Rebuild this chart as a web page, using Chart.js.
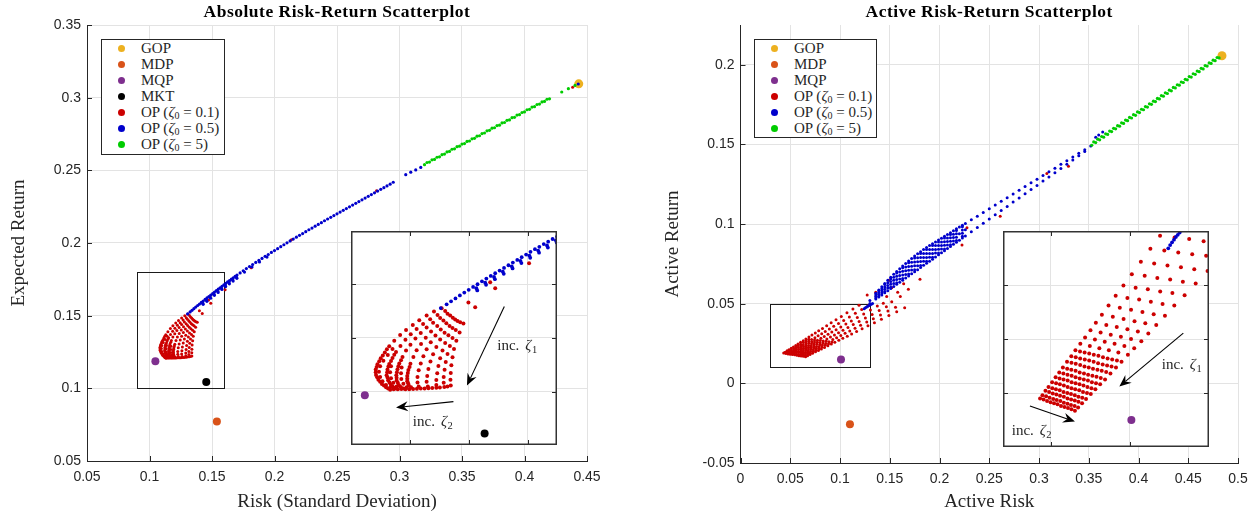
<!DOCTYPE html>
<html>
<head>
<meta charset="utf-8">
<script src="https://cdn.jsdelivr.net/npm/chart.js@4.4.1/dist/chart.umd.min.js"></script>
<style>
body { margin: 0; background: #fff; }
#wrap { position: relative; width: 1256px; height: 519px; overflow: hidden; background: #fff; }
canvas { position: absolute; }
.inset { background: #fff; }
.title { position: absolute; top: 1px; text-align: center; font: bold 17.5px "Liberation Serif", serif; letter-spacing: 0.5px; color: #000; line-height: 20px; white-space: nowrap; }
.legend { position: absolute; box-sizing: border-box; border: 1px solid #262626; background: #fff; }
.legend .row { position: absolute; left: 0; height: 16px; line-height: 16px; font: 15px "Liberation Serif", serif; color: #262626; white-space: nowrap; }
.legend .dot { position: absolute; left: 15.5px; top: 4.5px; width: 7px; height: 7px; border-radius: 50%; }
.legend .txt { position: absolute; left: 39px; }
sub { font-size: 10px; vertical-align: -2px; line-height: 0; }
</style>
</head>
<body>
<div id="wrap">
  <canvas id="absChart" width="628" height="519" style="left:0;top:0"></canvas>
  <canvas id="actChart" width="628" height="519" style="left:628px;top:0"></canvas>
  <canvas id="absInset" class="inset" width="206" height="214" style="left:351px;top:231px"></canvas>
  <canvas id="actInset" class="inset" width="206" height="216" style="left:1003px;top:231px"></canvas>
  <div class="title" style="left:87px;width:500px">Absolute Risk-Return Scatterplot</div>
  <div class="title" style="left:740.5px;width:497.5px">Active Risk-Return Scatterplot</div>
  <div class="legend" id="absLegend" style="left:101px;top:39px;width:124px;height:116px"></div>
  <div class="legend" id="actLegend" style="left:754px;top:39px;width:123px;height:99px"></div>
</div>
<script>
// ---------- ticks ----------
const absXTicks = [0.05, 0.1, 0.15, 0.2, 0.25, 0.3, 0.35, 0.4, 0.45];
const absYTicks = [0.05, 0.1, 0.15, 0.2, 0.25, 0.3, 0.35];
const actXTicks = [0, 0.05, 0.1, 0.15, 0.2, 0.25, 0.3, 0.35, 0.4, 0.45, 0.5];
const actYTicks = [-0.05, 0, 0.05, 0.1, 0.15, 0.2];
const absInsetXTicks = [0.12, 0.14, 0.16];
const absInsetYTicks = [0.12, 0.14, 0.16];
const actInsetXTicks = [0.05, 0.1];
const actInsetYTicks = [0.02, 0.03, 0.04];

// ---------- legend ----------
const absLegendLabels = ['GOP', 'MDP', 'MQP', 'MKT', 'OP (<i>ζ</i><sub>0</sub> = 0.1)', 'OP (<i>ζ</i><sub>0</sub> = 0.5)', 'OP (<i>ζ</i><sub>0</sub> = 5)'];
const actLegendLabels = ['GOP', 'MDP', 'MQP', 'OP (<i>ζ</i><sub>0</sub> = 0.1)', 'OP (<i>ζ</i><sub>0</sub> = 0.5)', 'OP (<i>ζ</i><sub>0</sub> = 5)'];

// ---------- absolute risk-return data ----------
const absGOP = [[0.4434, 0.3095]];
const absMDP = [[0.1539, 0.0772]];
const absMQP = [[0.1047, 0.1186]];
const absMKT = [[0.1454, 0.1043]];

const absOp01 = [
  [0.1308,0.1511],[0.1282,0.1499],[0.1257,0.1484],[0.1232,0.1466],[0.1210,0.1449],[0.1187,0.1430],[0.1167,0.1411],[0.1147,0.1390],[0.1130,0.1369],[0.1115,0.1346],[0.1101,0.1324],[0.1090,0.1302],[0.1084,0.1282],[0.1085,0.1262],[0.1093,0.1244],[0.1105,0.1228],[0.1119,0.1216],[0.1133,0.1207],
  [0.1320,0.1501],[0.1294,0.1486],[0.1269,0.1470],[0.1245,0.1452],[0.1223,0.1434],[0.1203,0.1414],[0.1185,0.1393],[0.1168,0.1370],[0.1153,0.1348],[0.1141,0.1325],[0.1130,0.1303],[0.1124,0.1282],[0.1121,0.1261],[0.1126,0.1242],[0.1135,0.1226],[0.1146,0.1214],[0.1159,0.1208],
  [0.1328,0.1491],[0.1303,0.1475],[0.1279,0.1457],[0.1257,0.1439],[0.1237,0.1419],[0.1219,0.1398],[0.1202,0.1375],[0.1187,0.1353],[0.1175,0.1329],[0.1164,0.1305],[0.1158,0.1283],[0.1154,0.1261],[0.1155,0.1241],[0.1162,0.1224],[0.1172,0.1213],[0.1185,0.1208],
  [0.1337,0.1484],[0.1314,0.1465],[0.1293,0.1445],[0.1272,0.1424],[0.1254,0.1401],[0.1238,0.1378],[0.1223,0.1354],[0.1212,0.1329],[0.1202,0.1304],[0.1195,0.1280],[0.1191,0.1258],[0.1191,0.1238],[0.1196,0.1223],[0.1211,0.1209],
  [0.1346,0.1476],[0.1324,0.1455],[0.1305,0.1432],[0.1287,0.1409],[0.1271,0.1384],[0.1257,0.1358],[0.1246,0.1332],[0.1237,0.1305],[0.1230,0.1279],[0.1226,0.1254],[0.1226,0.1234],[0.1230,0.1219],[0.1237,0.1211],
  [0.1354,0.1469],[0.1335,0.1445],[0.1318,0.1420],[0.1303,0.1394],[0.1290,0.1366],[0.1279,0.1339],[0.1270,0.1312],[0.1263,0.1284],[0.1259,0.1258],[0.1257,0.1236],[0.1261,0.1219],[0.1263,0.1212],
  [0.1362,0.1464],[0.1345,0.1437],[0.1331,0.1410],[0.1320,0.1381],[0.1311,0.1353],[0.1303,0.1324],[0.1297,0.1295],[0.1293,0.1268],[0.1290,0.1243],[0.1290,0.1224],[0.1290,0.1214],
  [0.1371,0.1459],[0.1356,0.1430],[0.1345,0.1400],[0.1336,0.1370],[0.1328,0.1340],[0.1322,0.1310],[0.1318,0.1281],[0.1315,0.1254],[0.1315,0.1233],[0.1317,0.1217],
  [0.1382,0.1454],[0.1369,0.1421],[0.1358,0.1390],[0.1350,0.1359],[0.1345,0.1328],[0.1341,0.1298],[0.1339,0.1269],[0.1338,0.1244],[0.1339,0.1222],
  [0.1099,0.1294],[0.1095,0.1274],[0.1099,0.1254],[0.1107,0.1238],[0.1119,0.1224],[0.1133,0.1214],[0.1145,0.1208],[0.1110,0.1315],[0.1125,0.1336],[0.1141,0.1359],
  [0.1136,0.1294],[0.1133,0.1272],[0.1136,0.1250],[0.1144,0.1233],[0.1155,0.1219],[0.1171,0.1209],[0.1172,0.1290],[0.1170,0.1268],[0.1171,0.1247],[0.1178,0.1229],[0.1189,0.1216],[0.1198,0.1208],
  [0.1122,0.1358],[0.1108,0.1335],[0.1096,0.1313],[0.1087,0.1292],[0.1084,0.1272],[0.1089,0.1253],[0.1099,0.1236],[0.1112,0.1222],[0.1126,0.1211],
  [0.1147,0.1337],[0.1136,0.1314],[0.1127,0.1293],[0.1123,0.1272],[0.1124,0.1252],[0.1131,0.1234],[0.1141,0.1220],[0.1153,0.1211],
  [0.1170,0.1317],[0.1161,0.1294],[0.1156,0.1272],[0.1155,0.1251],[0.1159,0.1233],[0.1167,0.1219],[0.1179,0.1211],
  [0.1199,0.1292],[0.1193,0.1269],[0.1191,0.1248],[0.1194,0.1231],[0.1204,0.1216],
  [0.1224,0.1210],[0.1250,0.1211],[0.1276,0.1213],[0.1302,0.1215],[0.1328,0.1219],
  [0.1399,0.1533],[0.1422,0.1515],[0.1473,0.1608],[0.1490,0.1586],[0.1605,0.1679],[0.1814,0.1830],[0.2135,0.2023],[0.2816,0.2360],[0.4385,0.3072]
];

const absOp05 = [
  [0.1305,0.1512],[0.1325,0.1526],[0.1340,0.1537],[0.1355,0.1548],[0.1370,0.1559],[0.1385,0.1570],[0.1400,0.1580],[0.1415,0.1591],[0.1430,0.1601],[0.1445,0.1612],[0.1460,0.1622],[0.1475,0.1632],[0.1490,0.1642],[0.1505,0.1652],[0.1520,0.1662],[0.1535,0.1672],[0.1550,0.1682],[0.1565,0.1692],[0.1580,0.1702],[0.1595,0.1712],[0.1610,0.1722],[0.1625,0.1732],[0.1640,0.1741],[0.1655,0.1751],[0.1670,0.1760],[0.1685,0.1770],[0.1700,0.1779],
  [0.1426,0.1586],[0.1429,0.1578],[0.1456,0.1607],[0.1459,0.1599],[0.1486,0.1628],[0.1489,0.1620],[0.1516,0.1648],[0.1519,0.1640],[0.1546,0.1668],[0.1549,0.1660],[0.1576,0.1688],[0.1579,0.1680],[0.1606,0.1708],[0.1609,0.1700],[0.1636,0.1727],[0.1639,0.1719],[0.1666,0.1746],[0.1669,0.1738],[0.1696,0.1765],[0.1699,0.1757],[0.1760,0.1800],[0.1820,0.1835],[0.1880,0.1870],[0.1940,0.1903],
  [0.1725,0.1794],[0.1750,0.1809],[0.1775,0.1824],[0.1800,0.1838],[0.1825,0.1852],[0.1850,0.1866],[0.1875,0.1880],[0.1900,0.1894],[0.1925,0.1908],[0.1950,0.1921],[0.1975,0.1935],[0.2000,0.1948],[0.2025,0.1961],[0.2050,0.1975],[0.2075,0.1988],[0.2100,0.2001],[0.2125,0.2014],[0.2150,0.2027],[0.2175,0.2040],[0.2200,0.2053],[0.2225,0.2065],[0.2250,0.2078],[0.2275,0.2091],[0.2300,0.2103],[0.2325,0.2116],[0.2350,0.2128],[0.2375,0.2140],[0.2400,0.2153],[0.2425,0.2165],[0.2450,0.2177],[0.2475,0.2189],[0.2500,0.2201],[0.2525,0.2213],[0.2550,0.2225],[0.2575,0.2237],[0.2600,0.2249],[0.2625,0.2261],[0.2650,0.2273],[0.2675,0.2285],[0.2700,0.2297],[0.2725,0.2309],[0.2750,0.2321],[0.2775,0.2333],[0.2800,0.2345],[0.2825,0.2357],[0.2850,0.2369],[0.2875,0.2381],[0.2900,0.2393],[0.2925,0.2405],[0.2950,0.2418],
  [0.3050,0.2470],[0.3090,0.2487],[0.3130,0.2503],[0.3170,0.2520],[0.4430,0.3094]
];

const absOp5 = [
  [0.320,0.2539],[0.324,0.2557],[0.328,0.2575],[0.332,0.2593],[0.336,0.2612],[0.340,0.2630],[0.344,0.2648],[0.348,0.2666],[0.352,0.2684],[0.356,0.2702],[0.360,0.2720],[0.364,0.2738],[0.368,0.2757],[0.372,0.2775],[0.376,0.2793],[0.380,0.2811],[0.384,0.2829],[0.388,0.2847],[0.392,0.2865],[0.396,0.2883],[0.400,0.2902],[0.404,0.2920],[0.408,0.2938],[0.412,0.2956],[0.416,0.2974],[0.420,0.2992],
  [0.322,0.2554],[0.326,0.2572],[0.330,0.2590],[0.334,0.2608],[0.338,0.2627],[0.342,0.2645],[0.346,0.2663],[0.350,0.2681],[0.354,0.2699],[0.358,0.2717],[0.362,0.2735],[0.366,0.2753],[0.370,0.2772],[0.374,0.2790],[0.378,0.2808],[0.382,0.2826],[0.386,0.2844],[0.390,0.2862],[0.394,0.2880],[0.398,0.2898],[0.402,0.2917],[0.406,0.2935],[0.410,0.2953],[0.414,0.2971],[0.418,0.2989],
  [0.4298,0.3039],[0.4351,0.3062],[0.4404,0.3084]
];

// ---------- active risk-return data ----------
const actGOP = [[0.4839, 0.2057]];
const actMDP = [[0.1100, -0.0257]];
const actMQP = [[0.1010, 0.0150]];

const actOp01 = [
  [0.1191,0.0491],[0.1283,0.0488],[0.1375,0.0485],[0.1466,0.0481],[0.1558,0.0478],[0.1650,0.0475],
  [0.1130,0.0467],[0.1218,0.0464],[0.1306,0.0460],[0.1394,0.0457],[0.1482,0.0454],[0.1570,0.0450],
  [0.1070,0.0443],[0.1154,0.0440],[0.1238,0.0436],[0.1323,0.0433],[0.1407,0.0429],[0.1491,0.0426],
  [0.1013,0.0420],[0.1094,0.0417],[0.1174,0.0413],[0.1255,0.0410],[0.1335,0.0406],[0.1416,0.0403],
  [0.0960,0.0399],[0.1037,0.0395],[0.1114,0.0392],[0.1192,0.0388],[0.1269,0.0385],[0.1346,0.0381],
  [0.0911,0.0380],[0.0985,0.0376],[0.1059,0.0373],[0.1133,0.0369],[0.1207,0.0365],[0.1281,0.0362],
  [0.0866,0.0362],[0.0937,0.0358],[0.1008,0.0354],[0.1080,0.0350],[0.1151,0.0346],[0.1222,0.0343],
  [0.0824,0.0345],[0.0893,0.0341],[0.0961,0.0337],[0.1030,0.0333],[0.1098,0.0329],[0.1167,0.0326],
  [0.0786,0.0330],[0.0852,0.0326],[0.0918,0.0322],[0.0985,0.0318],[0.1051,0.0314],[0.1117,0.0310],
  [0.0752,0.0316],[0.0816,0.0312],[0.0880,0.0308],[0.0944,0.0304],[0.1008,0.0300],[0.1073,0.0296],
  [0.0718,0.0303],[0.0780,0.0299],[0.0842,0.0295],[0.0904,0.0291],[0.0966,0.0287],[0.1028,0.0283],
  [0.0688,0.0291],[0.0748,0.0287],[0.0808,0.0283],[0.0868,0.0279],[0.0928,0.0275],[0.0988,0.0271],
  [0.0657,0.0279],[0.0715,0.0275],[0.0773,0.0271],[0.0831,0.0266],[0.0889,0.0262],[0.0948,0.0258],
  [0.0686,0.0277],[0.0744,0.0273],[0.0802,0.0269],[0.0860,0.0264],[0.0919,0.0260],
  [0.0631,0.0268],[0.0687,0.0264],[0.0744,0.0260],[0.0800,0.0255],[0.0857,0.0251],[0.0913,0.0247],
  [0.0659,0.0266],[0.0716,0.0262],[0.0772,0.0258],[0.0829,0.0253],[0.0885,0.0249],
  [0.0604,0.0258],[0.0659,0.0254],[0.0714,0.0249],[0.0768,0.0245],[0.0823,0.0241],[0.0878,0.0236],
  [0.0632,0.0256],[0.0687,0.0252],[0.0741,0.0247],[0.0796,0.0243],[0.0851,0.0239],
  [0.0578,0.0247],[0.0631,0.0243],[0.0684,0.0238],[0.0737,0.0234],[0.0790,0.0230],[0.0844,0.0225],
  [0.0605,0.0245],[0.0658,0.0241],[0.0711,0.0236],[0.0764,0.0232],[0.0817,0.0228],
  [0.0555,0.0238],[0.0607,0.0234],[0.0658,0.0229],[0.0710,0.0225],[0.0761,0.0220],[0.0813,0.0216],
  [0.0581,0.0236],[0.0633,0.0232],[0.0684,0.0227],[0.0736,0.0223],[0.0787,0.0218],
  [0.0532,0.0229],[0.0582,0.0225],[0.0633,0.0220],[0.0683,0.0216],[0.0733,0.0211],[0.0783,0.0207],
  [0.0557,0.0227],[0.0608,0.0223],[0.0658,0.0218],[0.0708,0.0214],[0.0758,0.0209],
  [0.0510,0.0220],[0.0559,0.0216],[0.0608,0.0211],[0.0656,0.0207],[0.0705,0.0202],[0.0754,0.0198],
  [0.0535,0.0218],[0.0584,0.0214],[0.0632,0.0209],[0.0681,0.0205],[0.0730,0.0200],
  [0.0487,0.0211],[0.0534,0.0207],[0.0582,0.0202],[0.0629,0.0198],[0.0676,0.0193],[0.0724,0.0189],
  [0.0511,0.0209],[0.0558,0.0205],[0.0606,0.0200],[0.0653,0.0196],[0.0700,0.0191],
  [0.0468,0.0204],[0.0514,0.0199],[0.0560,0.0195],[0.0607,0.0190],[0.0653,0.0186],[0.0699,0.0181],
  [0.0491,0.0202],[0.0537,0.0197],[0.0584,0.0193],[0.0630,0.0188],[0.0676,0.0184],
  [0.0449,0.0196],[0.0494,0.0191],[0.0539,0.0187],[0.0584,0.0182],[0.0629,0.0178],[0.0674,0.0173],
  [0.0472,0.0194],[0.0517,0.0189],[0.0562,0.0185],[0.0607,0.0180],[0.0652,0.0176],
  [0.0434,0.0190],[0.0478,0.0185],[0.0522,0.0181],[0.0566,0.0176],[0.0610,0.0172],[0.0654,0.0167],
  [0.0456,0.0188],[0.0500,0.0183],[0.0544,0.0179],[0.0588,0.0174],[0.0632,0.0170],
  [0.1273,0.0555],[0.1359,0.0572],[0.1469,0.0545],[0.1520,0.0513],[0.1435,0.0503],[0.1580,0.0572],[0.1687,0.0591],[0.1804,0.0654],[0.1489,0.0647],[0.1606,0.0545],[0.1520,0.0600],[0.1640,0.0625],
  [0.2226,0.0868],[0.2276,0.0977],[0.2610,0.1050],[0.3079,0.1317],[0.3296,0.1363]
];

const actOp05 = [
  [0.1243,0.0468],[0.1255,0.0474],[0.1267,0.0479],[0.1279,0.0484],[0.1291,0.0489],[0.1303,0.0493],[0.1315,0.0497],[0.1327,0.0501],
  [0.130,0.0521],[0.136,0.0565],[0.142,0.0607],[0.148,0.0647],[0.154,0.0685],[0.160,0.0720],[0.166,0.0753],[0.172,0.0784],[0.178,0.0813],[0.184,0.0840],[0.190,0.0865],
  [0.196,0.0888],[0.202,0.0911],[0.208,0.0934],[0.214,0.0958],[0.220,0.0981],[0.226,0.1004],[0.232,0.1027],[0.238,0.1050],[0.244,0.1073],[0.250,0.1097],[0.256,0.1120],[0.262,0.1143],[0.268,0.1166],[0.274,0.1189],[0.280,0.1212],[0.286,0.1236],[0.292,0.1259],[0.298,0.1282],[0.304,0.1305],[0.310,0.1328],[0.316,0.1351],[0.322,0.1375],[0.328,0.1398],[0.334,0.1421],[0.340,0.1444],[0.346,0.1467],[0.352,0.1490],
  [0.130,0.0502],[0.136,0.0529],[0.142,0.0555],[0.148,0.0582],[0.154,0.0608],[0.160,0.0635],[0.166,0.0661],[0.172,0.0688],[0.178,0.0714],[0.184,0.0741],[0.190,0.0767],[0.196,0.0794],[0.202,0.0820],[0.208,0.0846],[0.214,0.0873],[0.220,0.0899],[0.226,0.0926],[0.232,0.0952],[0.238,0.0979],[0.244,0.1005],[0.250,0.1032],[0.256,0.1058],[0.262,0.1085],[0.268,0.1111],[0.274,0.1138],[0.280,0.1164],[0.286,0.1190],[0.292,0.1217],[0.298,0.1243],[0.304,0.1270],[0.310,0.1296],[0.316,0.1323],[0.322,0.1349],[0.328,0.1376],[0.334,0.1402],[0.340,0.1429],[0.346,0.1455],
  [0.136,0.0538],[0.142,0.0568],[0.148,0.0598],[0.154,0.0627],[0.160,0.0656],[0.166,0.0684],[0.172,0.0712],[0.178,0.0739],[0.184,0.0766],[0.190,0.0792],[0.196,0.0818],[0.202,0.0843],[0.208,0.0868],[0.214,0.0894],
  [0.136,0.0547],[0.142,0.0581],[0.148,0.0615],[0.154,0.0647],[0.160,0.0678],[0.166,0.0707],[0.172,0.0736],[0.178,0.0764],[0.184,0.0791],[0.190,0.0816],[0.196,0.0841],[0.202,0.0866],[0.208,0.0890],[0.214,0.0916],[0.220,0.0940],[0.226,0.0965],
  [0.136,0.0556],[0.142,0.0594],[0.148,0.0631],[0.154,0.0666],[0.160,0.0699],[0.166,0.0730],[0.172,0.0760],[0.178,0.0788],[0.184,0.0815],[0.190,0.0841],[0.196,0.0865],[0.202,0.0888],[0.208,0.0912],[0.214,0.0937],
  [0.139,0.0542],[0.139,0.0548],[0.139,0.0559],[0.139,0.0570],[0.139,0.0581],[0.139,0.0586],
  [0.145,0.0569],[0.145,0.0576],[0.145,0.0591],[0.145,0.0605],[0.145,0.0620],[0.145,0.0627],
  [0.151,0.0595],[0.151,0.0604],[0.151,0.0622],[0.151,0.0639],[0.151,0.0657],[0.151,0.0666],
  [0.157,0.0622],[0.157,0.0632],[0.157,0.0652],[0.157,0.0673],[0.157,0.0693],[0.157,0.0703],
  [0.163,0.0648],[0.163,0.0659],[0.163,0.0681],[0.163,0.0704],[0.163,0.0726],[0.163,0.0737],
  [0.169,0.0674],[0.169,0.0686],[0.169,0.0710],[0.169,0.0733],[0.169,0.0757],[0.169,0.0769],
  [0.175,0.0701],[0.175,0.0713],[0.175,0.0738],[0.175,0.0762],[0.175,0.0787],[0.175,0.0799],
  [0.181,0.0727],[0.181,0.0740],[0.181,0.0765],[0.181,0.0790],[0.181,0.0815],[0.181,0.0827],
  [0.187,0.0754],[0.187,0.0766],[0.187,0.0791],[0.187,0.0816],[0.187,0.0841],[0.187,0.0853],
  [0.193,0.0780],[0.193,0.0792],[0.193,0.0816],[0.193,0.0841],[0.193,0.0865],[0.193,0.0877],
  [0.199,0.0807],[0.199,0.0819],[0.199,0.0842],[0.199,0.0865],[0.199,0.0888],[0.199,0.0900],
  [0.205,0.0833],[0.205,0.0844],[0.205,0.0867],[0.205,0.0889],[0.205,0.0912],[0.205,0.0923],
  [0.211,0.0860],[0.211,0.0871],[0.211,0.0892],[0.211,0.0914],[0.211,0.0935],[0.211,0.0946],
  [0.217,0.0886],[0.217,0.0897],[0.217,0.0918],[0.217,0.0939],[0.217,0.0960],[0.217,0.0970],
  [0.223,0.0913],[0.223,0.0923],[0.223,0.0943],[0.223,0.0963],[0.223,0.0983],[0.223,0.0993],
  [0.357,0.1545],[0.360,0.1560],[0.364,0.1578]
];

const actOp5 = [
  [0.353,0.1495],[0.357,0.1512],[0.361,0.1529],[0.365,0.1546],[0.369,0.1563],[0.373,0.1581],[0.377,0.1598],[0.381,0.1615],[0.385,0.1632],[0.389,0.1649],[0.393,0.1666],[0.397,0.1683],[0.401,0.1700],[0.405,0.1718],[0.409,0.1735],[0.413,0.1752],[0.417,0.1769],[0.421,0.1786],[0.425,0.1803],[0.429,0.1820],[0.433,0.1837],[0.437,0.1855],[0.441,0.1872],[0.445,0.1889],[0.449,0.1906],[0.453,0.1923],[0.457,0.1940],[0.461,0.1957],[0.465,0.1974],[0.469,0.1992],[0.473,0.2009],[0.477,0.2026],[0.481,0.2043],
  [0.355,0.1516],[0.359,0.1533],[0.363,0.1550],[0.367,0.1567],[0.371,0.1584],[0.375,0.1601],[0.379,0.1618],[0.383,0.1636],[0.387,0.1653],[0.391,0.1670],[0.395,0.1687],[0.399,0.1704],[0.403,0.1721],[0.407,0.1738],[0.411,0.1755],[0.415,0.1772],[0.419,0.1789],[0.423,0.1807],[0.427,0.1824],[0.431,0.1841],[0.435,0.1858],[0.439,0.1875],[0.443,0.1892],[0.447,0.1909],[0.451,0.1926],[0.455,0.1944],[0.459,0.1961],[0.463,0.1978],[0.467,0.1995],[0.471,0.2012],[0.475,0.2029],[0.479,0.2046]
];

// ---------- styling ----------
const COL = { gop: '#EDB120', mdp: '#D95319', mqp: '#7E2F8E', mkt: '#000000', op01: '#CC0000', op05: '#0000CC', op5: '#00CC00' };
const absLegendColors = [COL.gop, COL.mdp, COL.mqp, COL.mkt, COL.op01, COL.op05, COL.op5];
const actLegendColors = [COL.gop, COL.mdp, COL.mqp, COL.op01, COL.op05, COL.op5];
const AX = '#262626', GRID = '#e3e3e3';

Chart.defaults.font.family = '"Liberation Sans", Arial, sans-serif';

// decorations: zoom boxes, frames, arrows, notes
const decorCfg = {
  absChart: { rect: [0.09, 0.10, 0.16, 0.18] },
  actChart: { rect: [0.03, 0.01, 0.13, 0.05] },
  absInset: { box: true,
    arrows: [[0.1521, 0.1518, 0.1394, 0.1222], [0.1348, 0.1162, 0.1153, 0.1140]],
    notes: [[0.1497, 0.1370, '1'], [0.1210, 0.1086, '2']] },
  actInset: { box: true,
    arrows: [[0.1338, 0.0311, 0.0934, 0.0212], [0.0370, 0.0176, 0.0654, 0.0147]],
    notes: [[0.1202, 0.0251, '1'], [0.0255, 0.0130, '2']] }
};

function drawArrow(ctx, x0, y0, x1, y1) {
  const ang = Math.atan2(y1 - y0, x1 - x0);
  const L = 12, W = 5, N = 8;
  ctx.strokeStyle = '#000'; ctx.fillStyle = '#000'; ctx.lineWidth = 1.1;
  ctx.beginPath();
  ctx.moveTo(x0, y0);
  ctx.lineTo(x1 - Math.cos(ang) * N, y1 - Math.sin(ang) * N);
  ctx.stroke();
  ctx.save();
  ctx.translate(x1, y1);
  ctx.rotate(ang);
  ctx.beginPath();
  ctx.moveTo(0, 0); ctx.lineTo(-L, -W); ctx.lineTo(-N, 0); ctx.lineTo(-L, W);
  ctx.closePath(); ctx.fill();
  ctx.restore();
}

function drawNote(ctx, px, py, sub) {
  ctx.fillStyle = AX; ctx.textBaseline = 'middle'; ctx.textAlign = 'left';
  ctx.font = '15px "Liberation Serif"';
  ctx.fillText('inc.', px, py);
  let w = ctx.measureText('inc.').width + 6;
  ctx.font = 'italic 15px "Liberation Serif"';
  ctx.fillText('ζ', px + w, py);
  w += ctx.measureText('ζ').width + 0.5;
  ctx.font = '10.5px "Liberation Serif"';
  ctx.fillText(sub, px + w, py + 4);
}

const decor = {
  id: 'decor',
  beforeDatasetsDraw(chart) {
    const o = decorCfg[chart.canvas.id];
    if (!o.rect) return;
    const { ctx, scales: { x, y } } = chart;
    const [x0, y0, x1, y1] = o.rect;
    const a = Math.round(x.getPixelForValue(x0)) + 0.5, b = Math.round(y.getPixelForValue(y1)) + 0.5;
    const c = Math.round(x.getPixelForValue(x1)) + 0.5, d = Math.round(y.getPixelForValue(y0)) + 0.5;
    ctx.save();
    ctx.strokeStyle = '#1a1a1a'; ctx.lineWidth = 1;
    ctx.strokeRect(a, b, c - a, d - b);
    ctx.restore();
  },
  afterDatasetsDraw(chart) {
    const o = decorCfg[chart.canvas.id];
    const { ctx, chartArea: A, scales: { x, y } } = chart;
    ctx.save();
    ctx.strokeStyle = AX; ctx.lineWidth = 1;
    ctx.beginPath();
    x.ticks.forEach(t => {
      const p = Math.round(x.getPixelForValue(t.value)) + 0.5;
      ctx.moveTo(p, A.bottom); ctx.lineTo(p, A.bottom - 5);
      if (o.box) { ctx.moveTo(p, A.top); ctx.lineTo(p, A.top + 5); }
    });
    y.ticks.forEach(t => {
      const p = Math.round(y.getPixelForValue(t.value)) + 0.5;
      ctx.moveTo(A.left, p); ctx.lineTo(A.left + 5, p);
      if (o.box) { ctx.moveTo(A.right, p); ctx.lineTo(A.right - 5, p); }
    });
    ctx.stroke();
    if (o.box) {
      ctx.strokeStyle = '#333'; ctx.lineWidth = 1.5;
      ctx.strokeRect(0.75, 0.75, chart.width - 1.5, chart.height - 1.5);
    }
    (o.arrows || []).forEach(([ax0, ay0, ax1, ay1]) =>
      drawArrow(ctx, x.getPixelForValue(ax0), y.getPixelForValue(ay0), x.getPixelForValue(ax1), y.getPixelForValue(ay1)));
    (o.notes || []).forEach(([nx, ny, s]) => drawNote(ctx, x.getPixelForValue(nx), y.getPixelForValue(ny), s));
    ctx.restore();
  }
};

const pts = arr => arr.map(([x, y]) => ({ x, y }));
const fmt = v => String(Math.round(v * 1000) / 1000);

function ds(arr, color, r, order) {
  return { data: pts(arr), backgroundColor: color, borderColor: color, pointBackgroundColor: color,
           pointBorderWidth: 0, pointRadius: r, pointHoverRadius: r, showLine: false, order };
}

function mainAxis(min, max, ticks, title, size, titlePad, isX) {
  return {
    type: 'linear', min, max,
    afterBuildTicks: s => { s.ticks = ticks.map(v => ({ value: v })); },
    afterFit: s => { if (isX) s.height = size; else s.width = size; },
    ticks: { color: AX, font: { size: 14 }, padding: isX ? 8 : 6, autoSkip: false, maxRotation: 0, callback: v => fmt(v) },
    grid: { color: GRID, drawTicks: false },
    border: { color: AX, width: 1 },
    title: { display: true, text: title, color: AX, font: { family: 'Liberation Serif', size: 19 },
             padding: isX ? { top: 0, bottom: titlePad } : { top: titlePad, bottom: 0 } }
  };
}

function insetAxis(min, max, ticks, isX) {
  return {
    type: 'linear', min, max,
    afterBuildTicks: s => { s.ticks = ticks.map(v => ({ value: v })); },
    afterFit: s => { if (isX) s.height = 0; else s.width = 0; },
    ticks: { display: false },
    grid: { color: GRID, drawTicks: false },
    border: { display: false }
  };
}

function makeChart(id, datasets, scales, padding) {
  return new Chart(document.getElementById(id), {
    type: 'scatter',
    data: { datasets },
    options: {
      responsive: false, animation: false, events: [],
      layout: { padding, autoPadding: false },
      plugins: { legend: { display: false }, tooltip: { enabled: false } },
      scales
    },
    plugins: [decor]
  });
}

// ---------- absolute chart ----------
makeChart('absChart', [
  ds(absMDP, COL.mdp, 4, 0), ds(absMQP, COL.mqp, 4, 0), ds(absMKT, COL.mkt, 4, 0),
  ds(absOp5, COL.op5, 1.6, 1), ds(absOp05, COL.op05, 1.6, 2), ds(absOp01, COL.op01, 1.5, 3),
  ds(absGOP, COL.gop, 4.5, 5)
], {
  x: mainAxis(0.05, 0.45, absXTicks, 'Risk (Standard Deviation)', 58, 6, true),
  y: mainAxis(0.05, 0.35, absYTicks, 'Expected Return', 87, 8, false)
}, { left: 0, top: 25, right: 41, bottom: 0 });

makeChart('absInset', [
  ds(absMQP, COL.mqp, 4, 0), ds(absMKT, COL.mkt, 4, 0),
  ds(absOp05, COL.op05, 1.9, 2), ds(absOp01, COL.op01, 2.0, 3)
], {
  x: insetAxis(0.10, 0.17, absInsetXTicks, true),
  y: insetAxis(0.10, 0.18, absInsetYTicks, false)
}, 0);

// ---------- active chart ----------
makeChart('actChart', [
  ds(actMDP, COL.mdp, 4, 0), ds(actMQP, COL.mqp, 4, 0),
  ds(actOp5, COL.op5, 1.6, 1), ds(actOp05, COL.op05, 1.5, 2), ds(actOp01, COL.op01, 1.5, 3),
  ds(actGOP, COL.gop, 4.5, 5)
], {
  x: mainAxis(0, 0.5, actXTicks, 'Active Risk', 56, 6, true),
  y: mainAxis(-0.05, 0.225, actYTicks, 'Active Return', 112.5, 34, false)
}, { left: 0, top: 25, right: 18, bottom: 0 });

makeChart('actInset', [
  ds(actMQP, COL.mqp, 4, 0),
  ds(actOp05, COL.op05, 1.9, 2), ds(actOp01, COL.op01, 2.0, 3)
], {
  x: insetAxis(0.02, 0.15, actInsetXTicks, true),
  y: insetAxis(0.01, 0.05, actInsetYTicks, false)
}, 0);

// ---------- legends ----------
function buildLegend(id, labels, colors) {
  const box = document.getElementById(id);
  box.innerHTML = labels.map((lab, i) =>
    `<div class="row" style="top:${(0.3 + 16 * i).toFixed(1)}px;width:100%">
       <span class="dot" style="background:${colors[i]}"></span><span class="txt">${lab}</span>
     </div>`).join('');
}
buildLegend('absLegend', absLegendLabels, absLegendColors);
buildLegend('actLegend', actLegendLabels, actLegendColors);
</script>
</body>
</html>
